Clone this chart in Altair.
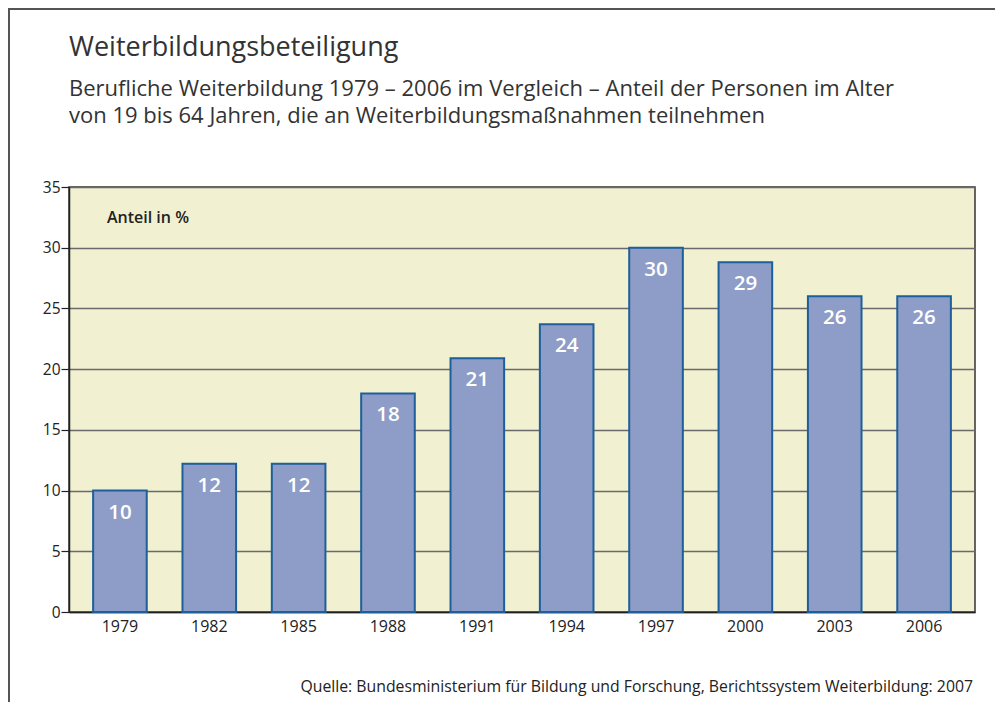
import altair as alt
import pandas as pd

years = ["1979", "1982", "1985", "1988", "1991", "1994", "1997", "2000", "2003", "2006"]
values = [10.0, 12.2, 12.2, 18.0, 20.9, 23.7, 30.0, 28.8, 26.0, 26.0]
labels = ["10", "12", "12", "18", "21", "24", "30", "29", "26", "26"]

title_text = "Weiterbildungsbeteiligung"
subtitle_lines = ["Berufliche Weiterbildung 1979 – 2006 im Vergleich – Anteil der Personen im Alter",
                  "von 19 bis 64 Jahren, die an Weiterbildungsmaßnahmen teilnehmen"]
unit_text = "Anteil in %"
source_text = "Quelle: Bundesministerium für Bildung und Forschung, Berichtssystem Weiterbildung: 2007"

df = pd.DataFrame({"Jahr": years, "Anteil": values, "Label": labels})

FONT = "Open Sans"
W, H = 906, 425

x = alt.X("Jahr:N", sort=years, title=None,
          scale=alt.Scale(paddingInner=0.4, paddingOuter=0.27),
          axis=alt.Axis(labelAngle=0, ticks=False, labelPadding=6, domain=True,
                        domainColor="#222", domainWidth=1.5, labelFontSize=16,
                        labelColor="#222", labelFont=FONT, grid=False))
y = alt.Y("Anteil:Q", title=None,
          scale=alt.Scale(domain=[0, 35], nice=False),
          axis=alt.Axis(values=[0, 5, 10, 15, 20, 25, 30, 35], tickSize=8,
                        tickColor="#222", tickWidth=1.2, domainColor="#222",
                        domainWidth=1.5, labelFontSize=15.5, labelColor="#222",
                        labelFont=FONT, labelPadding=1, grid=True,
                        gridColor="#6a6a6a", gridWidth=1.5))

base = alt.Chart(df)

bars = base.mark_bar(fill="#8e9dc7", stroke="#1d5f9a", strokeWidth=2).encode(x=x, y=y)

bar_text = base.mark_text(color="white", fontSize=20.5, font=FONT, fontWeight=600,
                          baseline="middle", dy=22).encode(
    x=alt.X("Jahr:N", sort=years), y="Anteil:Q", text="Label:N")


def note(text, xv, yv, size, weight="normal", align="left", color="#222"):
    return alt.Chart(pd.DataFrame({"t": [text]})).mark_text(
        align=align, baseline="alphabetic", fontSize=size, font=FONT,
        fontWeight=weight, color=color, clip=False
    ).encode(x=alt.value(xv), y=alt.value(yv), text="t:N")


unit = note(unit_text, 38, 36, 16, 600)
source = note(source_text, 904, 505, 15.8, align="right")
title = note(title_text, 0, -131, 27, color="#333")
sub1 = note(subtitle_lines[0], 0, -91, 22, 500, color="#333")
sub2 = note(subtitle_lines[1], 0, -64, 22, 500, color="#333")

frame = alt.Chart(pd.DataFrame({"a": [0]})).mark_rect(
    fill=None, stroke="#555", strokeWidth=2, clip=False).encode(
    x=alt.value(-60), x2=alt.value(931), y=alt.value(-178), y2=alt.value(560))

chart = alt.layer(frame, bars, bar_text, unit, source, title, sub1, sub2).properties(
    width=W, height=H,
    autosize=alt.AutoSizeParams(type="none"),
    padding={"left": 61, "top": 179, "right": 20, "bottom": 90},
    background="white",
).configure_view(stroke="#333", strokeWidth=1.5, fill="#f1f0d0")

chart.save("out.html", embed_options={"renderer": "svg", "actions": False})
